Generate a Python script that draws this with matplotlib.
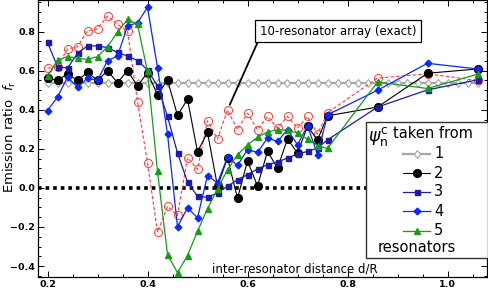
import matplotlib
matplotlib.use('Agg')
import matplotlib.pyplot as plt
from matplotlib.patches import Rectangle
from matplotlib.lines import Line2D
from matplotlib.ticker import MultipleLocator

# inter-resonator distance d/R
x_dense = [0.20, 0.22, 0.24, 0.26, 0.28, 0.30, 0.32, 0.34, 0.36, 0.38,
           0.40, 0.42, 0.44, 0.46, 0.48, 0.50, 0.52, 0.54, 0.56, 0.58,
           0.60, 0.62, 0.64, 0.66, 0.68, 0.70, 0.72, 0.74, 0.76]
x_sparse = [0.86, 0.96, 1.06]
x_all = x_dense + x_sparse

x_gray = [0.20 + 0.02 * i for i in range(44)]
y_gray = [0.535] * len(x_gray)

# 10-resonator array (exact)
y_exact = [0.613, 0.620, 0.711, 0.723, 0.805, 0.814, 0.880, 0.838, 0.803, 0.442,
           0.128, -0.227, -0.094, -0.141, 0.155, 0.095, 0.344, 0.250, 0.400, 0.298,
           0.383, 0.298, 0.366, 0.306, 0.366, 0.306, 0.366, 0.275, 0.385,
           0.562, 0.584, 0.550]

y_two = [0.562, 0.550, 0.584, 0.550, 0.592, 0.550, 0.600, 0.539, 0.600, 0.522,
         0.590, 0.477, 0.553, 0.371, 0.454, 0.185, 0.284, 0.008, 0.153, -0.053,
         0.138, 0.010, 0.187, 0.102, 0.250, 0.179, 0.315, 0.245, 0.369,
         0.414, 0.587, 0.609]

y_three = [0.745, 0.620, 0.613, 0.689, 0.727, 0.727, 0.718, 0.694, 0.675, 0.652,
           0.604, 0.522, 0.366, 0.179, 0.030, -0.043, -0.048, -0.026, 0.008, 0.042,
           0.068, 0.097, 0.119, 0.133, 0.153, 0.173, 0.187, 0.204, 0.246,
           0.414, 0.502, 0.553]

y_four = [0.396, 0.465, 0.567, 0.516, 0.562, 0.550, 0.652, 0.675, 0.829, 0.846,
          0.924, 0.616, 0.276, -0.199, -0.102, -0.153, 0.063, 0.026, 0.158, 0.116,
          0.196, 0.182, 0.255, 0.238, 0.298, 0.221, 0.318, 0.170, 0.374,
          0.500, 0.638, 0.609]

y_five = [0.574, 0.655, 0.672, 0.664, 0.658, 0.672, 0.723, 0.797, 0.863, 0.837,
          0.596, 0.085, -0.341, -0.434, -0.346, -0.222, -0.106, -0.005, 0.093, 0.170,
          0.220, 0.260, 0.286, 0.298, 0.295, 0.281, 0.250, 0.216, 0.202,
          0.542, 0.509, 0.582]

legend_labels = ['1', '2', '3', '4', '5']

c_gray = '#a6a6a6'
c_red = '#ff3b3b'
c_black = '#000000'
c_navy = '#1c1caa'
c_blue = '#0a28ff'
c_green = '#169c16'

fig = plt.figure(figsize=(4.89, 2.91), dpi=100)
ax = fig.add_axes([38 / 489, 14 / 291, 449 / 489, 277 / 291])

ax.axhline(0, color='black', lw=2.6, ls=(0, (1, 1.1)), zorder=1)

styles = [
    dict(color=c_gray, marker='d', ms=4.3, mfc='white', mec=c_gray, lw=1.6, mew=0.8),
    dict(color=c_black, marker='o', ms=5.6, lw=0.8),
    dict(color=c_navy, marker='s', ms=3.6, lw=0.9),
    dict(color=c_blue, marker='D', ms=3.4, lw=0.9),
    dict(color=c_green, marker='^', ms=4.3, lw=0.9),
]

ax.plot(x_gray, y_gray, zorder=2, **styles[0])
ax.plot(x_all, y_exact, color=c_red, ls=(0, (3, 2)), lw=0.8, marker='o', ms=5.8,
        mfc='none', mec=c_red, mew=0.7, zorder=3)
ax.plot(x_all, y_two, zorder=4, **styles[1])
ax.plot(x_all, y_three, zorder=5, **styles[2])
ax.plot(x_all, y_four, zorder=6, **styles[3])
ax.plot(x_all, y_five, zorder=7, **styles[4])

ax.set_xlim(0.181, 1.079)
ax.set_ylim(-0.456, 0.962)
ax.xaxis.set_major_locator(MultipleLocator(0.2))
ax.xaxis.set_minor_locator(MultipleLocator(0.05))
ax.yaxis.set_major_locator(MultipleLocator(0.2))
ax.yaxis.set_minor_locator(MultipleLocator(0.05))
ax.tick_params(which='both', direction='in', top=True, right=True, width=0.7)
ax.tick_params(which='major', length=4.5, labelsize=6.8, pad=2)
ax.tick_params(which='minor', length=2.5)
ax.xaxis.set_major_formatter(plt.FuncFormatter(lambda v, p: f'{v:.1f}'))
ax.yaxis.set_major_formatter(plt.FuncFormatter(lambda v, p: f'{v:.1f}'.replace('-', '\u2212')))
for lab in ax.get_xticklabels() + ax.get_yticklabels():
    lab.set_fontweight('bold')
for s in ax.spines.values():
    s.set_linewidth(0.9)

# y label placed by hand so it fits in the narrow left margin
fig.text(10 / 489, 1 - 137 / 291, r'Emission ratio  $f_\mathrm{r}$', fontsize=9.5,
         rotation=90, ha='center', va='center')

# x label sits inside the frame
fig.text(295 / 489, 1 - 269 / 291, 'inter-resonator distance d/R', fontsize=8.5,
         ha='center', va='center')

# annotation for the exact result
ax.annotate('10-resonator array (exact)', xy=(0.56, 0.40),
            xytext=(338 / 489, 1 - 31 / 291), textcoords='figure fraction',
            fontsize=8.5, ha='center', va='center',
            bbox=dict(boxstyle='square,pad=0.4', fc='white', ec='black', lw=0.9),
            arrowprops=dict(arrowstyle='-', color='black', lw=1.3, relpos=(0, 0),
                            shrinkA=0, shrinkB=4), zorder=10)


# hand-made legend box
def fx(px):
    return px / 489


def fy(py):
    return 1 - py / 291


fig.patches.append(Rectangle((fx(366), fy(257.5)), fx(488) - fx(366), fy(121.5) - fy(257.5),
                             transform=fig.transFigure, fc='white', ec='#333333', lw=1.0,
                             zorder=20))
fig.text(fx(368), fy(136), r'$\psi_\mathrm{n}^\mathrm{c}$', fontsize=12.5, va='center',
         ha='left', zorder=21)
fig.text(fx(393), fy(134), 'taken from', fontsize=10.5, va='center', ha='left', zorder=21)
row_y = [154, 173, 192, 211, 230.5]
for lab, st, ry in zip(legend_labels, styles, row_y):
    fig.lines.append(Line2D([fx(403), fx(430)], [fy(ry), fy(ry)],
                            transform=fig.transFigure, color=st['color'],
                            lw=st['lw'], zorder=21))
    mk = {k: v for k, v in st.items() if k != 'lw'}
    fig.lines.append(Line2D([fx(416.5)], [fy(ry)], transform=fig.transFigure,
                            zorder=22, ls='none', **mk))
    fig.text(fx(434), fy(ry), lab, fontsize=10.5, va='center', ha='left', zorder=21)
fig.text(fx(417), fy(247), 'resonators', fontsize=10.5, va='center', ha='center', zorder=21)

fig.savefig('out.png', dpi=100)
